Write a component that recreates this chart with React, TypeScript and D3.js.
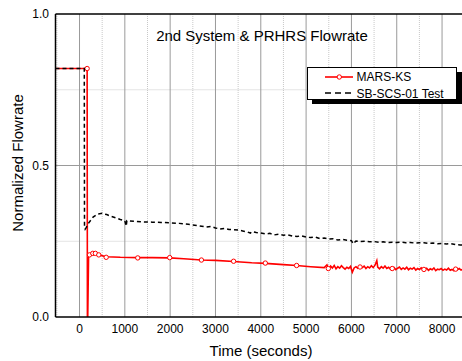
import React, { useRef, useEffect } from "react";
import * as d3 from "d3";

// MARS-KS (red, with open circle markers)
const marsTime = [-530, 168, 174, 182, 200, 260, 310, 350, 425, 590, 900, 1285, 1600, 1990, 2300, 2690, 3000, 3400, 3800, 4100, 4500, 4790, 5100, 5400,
  5460, 5500, 5540, 5580, 5620, 5660, 5700, 5740, 5780, 5820, 5860, 5900, 5940, 5980, 6020, 6060, 6100, 6140, 6190, 6240, 6280, 6320, 6360, 6400,
  6440, 6480, 6520, 6560, 6580, 6620, 6660, 6700, 6740, 6780, 6820, 6860, 6900, 6940, 6980, 7020, 7060, 7100, 7140, 7180, 7220, 7260, 7300,
  7340, 7380, 7420, 7460, 7500, 7540, 7580, 7620, 7660, 7700, 7740, 7780, 7820, 7860, 7900, 7940, 7980, 8020, 8060, 8100, 8140, 8180, 8220,
  8260, 8300, 8340, 8380, 8420, 8450];
const marsValue = [0.82, 0.82, 0.0, 0.0, 0.205, 0.21, 0.21, 0.21, 0.205, 0.199, 0.197, 0.196, 0.196, 0.195, 0.192, 0.188, 0.187, 0.183, 0.179, 0.177, 0.173, 0.17, 0.166, 0.163,
  0.172, 0.158, 0.168, 0.162, 0.17, 0.159, 0.166, 0.161, 0.169, 0.163, 0.158, 0.164, 0.16, 0.167, 0.148, 0.162, 0.166, 0.161, 0.165, 0.163, 0.168, 0.16, 0.166, 0.162,
  0.169, 0.163, 0.171, 0.186, 0.165, 0.159, 0.166, 0.161, 0.168, 0.16, 0.164, 0.158, 0.16, 0.163, 0.156, 0.161, 0.165, 0.157, 0.162, 0.158, 0.164, 0.156, 0.161,
  0.158, 0.163, 0.155, 0.16, 0.157, 0.162, 0.156, 0.157, 0.161, 0.154, 0.159, 0.156, 0.162, 0.153, 0.158, 0.156, 0.16, 0.154, 0.158, 0.155, 0.161, 0.154, 0.157,
  0.153, 0.158, 0.156, 0.16, 0.155, 0.157];
const marsMarkerTime = [168, 220, 293, 350, 425, 588, 1285, 1990, 2690, 3400, 4100, 4790, 5490, 6190, 6900, 7600, 8300];
const marsMarkerValue = [0.82, 0.205, 0.21, 0.21, 0.205, 0.197, 0.195, 0.196, 0.188, 0.184, 0.178, 0.17, 0.16, 0.165, 0.16, 0.157, 0.158];

// SB-SCS-01 Test (black dashed)
const testTime = [-530, 105, 110, 125, 150, 200, 300, 400, 500, 600, 700, 800, 900, 1000, 1030, 1045, 1200, 1400, 1600, 1800, 2000, 2200, 2400, 2600, 2800,
  2900, 3000, 3100, 3200, 3300, 3400, 3500, 3600, 3700, 3770, 3800, 3900, 4000, 4100, 4200, 4300, 4400, 4500, 4600, 4700, 4800, 4900, 5000, 5100, 5200,
  5300, 5400, 5500, 5600, 5700, 5800, 5900, 6000, 6040, 6100, 6200, 6300, 6400, 6500, 6600, 6700, 6800, 6900, 7000, 7100, 7200, 7300, 7400, 7500,
  7600, 7700, 7800, 7900, 8000, 8100, 8200, 8300, 8400, 8450];
const testValue = [0.82, 0.82, 0.3, 0.29, 0.296, 0.31, 0.33, 0.34, 0.342, 0.338, 0.332, 0.327, 0.322, 0.318, 0.3, 0.318, 0.316, 0.314, 0.313, 0.312, 0.311, 0.309, 0.306, 0.302, 0.297,
  0.299, 0.294, 0.29, 0.292, 0.289, 0.288, 0.287, 0.284, 0.281, 0.277, 0.282, 0.279, 0.277, 0.274, 0.276, 0.271, 0.273, 0.27, 0.271, 0.267, 0.266, 0.268, 0.264, 0.262, 0.264,
  0.259, 0.261, 0.257, 0.258, 0.254, 0.256, 0.253, 0.252, 0.241, 0.251, 0.249, 0.25, 0.248, 0.249, 0.247, 0.248, 0.246, 0.247, 0.246, 0.247, 0.245, 0.246, 0.244, 0.245,
  0.245, 0.243, 0.244, 0.242, 0.243, 0.241, 0.242, 0.239, 0.238, 0.238];

const xMajor = [0, 1000, 2000, 3000, 4000, 5000, 6000, 7000, 8000];
const xMinor = [-500, 500, 1500, 2500, 3500, 4500, 5500, 6500, 7500];
const yMajor = [0, 0.5, 1.0];
const yMinor = [0.25, 0.75];

const W = 462;
const H = 361;
const FONT = "'Liberation Sans', Arial, sans-serif";

const App = () => {
  const gRef = useRef<SVGGElement>(null);
  const left = 55.5, right = 470, top = 14, bottom = 317;

  useEffect(() => {
    const g = d3.select(gRef.current);
    g.selectAll("*").remove();

    const x = d3.scaleLinear().domain([-530, 8440]).range([left, 462]);
    const y = d3.scaleLinear().domain([0, 1]).range([bottom, top]);

    g.append("clipPath").attr("id", "plot")
      .append("rect").attr("x", left).attr("y", top).attr("width", right - left).attr("height", bottom - top);

    // grid
    g.selectAll(".vminor").data(xMinor).join("line")
      .attr("x1", d => x(d)).attr("x2", d => x(d)).attr("y1", top).attr("y2", bottom)
      .attr("stroke", "#c8c8c8").attr("stroke-dasharray", "1,1");
    g.selectAll(".hminor").data(yMinor).join("line")
      .attr("x1", left).attr("x2", right).attr("y1", d => y(d)).attr("y2", d => y(d))
      .attr("stroke", "#c8c8c8").attr("stroke-dasharray", "1,1");
    g.selectAll(".vmajor").data(xMajor).join("line")
      .attr("x1", d => x(d)).attr("x2", d => x(d)).attr("y1", top).attr("y2", bottom)
      .attr("stroke", "#9a9a9a").attr("stroke-width", 1);
    g.append("line").attr("x1", left).attr("x2", right).attr("y1", y(0.5)).attr("y2", y(0.5))
      .attr("stroke", "#9a9a9a");

    const plot = g.append("g").attr("clip-path", "url(#plot)");

    const line = d3.line<[number, number]>().x(d => x(d[0])).y(d => y(d[1]));

    const red: [number, number][] = marsTime.map((t, i) => [t, marsValue[i]]);
    const black: [number, number][] = testTime.map((t, i) => [t, testValue[i]]);

    plot.append("path").datum(red).attr("d", line).attr("fill", "none")
      .attr("stroke", "#ff0000").attr("stroke-width", 1.6);
    plot.selectAll(".mk").data(marsMarkerTime).join("circle")
      .attr("cx", d => x(d)).attr("cy", (d, i) => y(marsMarkerValue[i])).attr("r", 2.2)
      .attr("fill", "#fff").attr("stroke", "#ff0000").attr("stroke-width", 1);
    plot.append("path").datum(black).attr("d", line).attr("fill", "none")
      .attr("stroke", "#000").attr("stroke-width", 1.5).attr("stroke-dasharray", "4,3");

    // axes frame
    g.append("line").attr("x1", left).attr("x2", right).attr("y1", top).attr("y2", top).attr("stroke", "#000").attr("stroke-width", 1.5);
    g.append("line").attr("x1", left).attr("x2", right).attr("y1", bottom).attr("y2", bottom).attr("stroke", "#000").attr("stroke-width", 1.5);
    g.append("line").attr("x1", left).attr("x2", left).attr("y1", top).attr("y2", bottom).attr("stroke", "#000").attr("stroke-width", 1.5);

    g.selectAll(".xt").data(xMajor).join("text")
      .attr("x", d => x(d)).attr("y", 332.5).attr("text-anchor", "middle")
      .attr("font-family", FONT).attr("font-size", 12).text(d => String(d));
    g.selectAll(".yt").data(yMajor).join("text")
      .attr("x", 49).attr("y", d => y(d) + 4.3).attr("text-anchor", "end")
      .attr("font-family", FONT).attr("font-size", 12).text(d => d.toFixed(1));

    g.append("text").attr("x", 261).attr("y", 356).attr("text-anchor", "middle")
      .attr("font-family", FONT).attr("font-size", 15).text("Time (seconds)");
    g.append("text").attr("transform", "translate(23,163) rotate(-90)").attr("text-anchor", "middle")
      .attr("font-family", FONT).attr("font-size", 15).text("Normalized Flowrate");
    g.append("text").attr("x", 262).attr("y", 41).attr("text-anchor", "middle")
      .attr("font-family", FONT).attr("font-size", 15).text("2nd System & PRHRS Flowrate");

    // legend
    const lg = g.append("g");
    lg.append("rect").attr("x", 312).attr("y", 72).attr("width", 150).attr("height", 32).attr("fill", "#000");
    lg.append("rect").attr("x", 307.5).attr("y", 67.5).attr("width", 149).attr("height", 32)
      .attr("fill", "#fff").attr("stroke", "#000").attr("stroke-width", 1);
    lg.append("line").attr("x1", 325).attr("x2", 353).attr("y1", 77).attr("y2", 77).attr("stroke", "#ff0000").attr("stroke-width", 1.6);
    lg.append("circle").attr("cx", 339.3).attr("cy", 77).attr("r", 2.2).attr("fill", "#fff").attr("stroke", "#ff0000");
    lg.append("line").attr("x1", 325).attr("x2", 353).attr("y1", 93).attr("y2", 93).attr("stroke", "#000").attr("stroke-width", 1.4).attr("stroke-dasharray", "6,4");
    lg.append("text").attr("x", 356.5).attr("y", 81).attr("font-family", FONT).attr("font-size", 12).text("MARS-KS");
    lg.append("text").attr("x", 356.5).attr("y", 97.5).attr("font-family", FONT).attr("font-size", 12).text("SB-SCS-01 Test");
  }, []);

  return (
    <svg width={W} height={H} style={{ position: "absolute", left: 0, top: 0, background: "#fff" }}>
      <g ref={gRef} />
    </svg>
  );
};

export default App;
